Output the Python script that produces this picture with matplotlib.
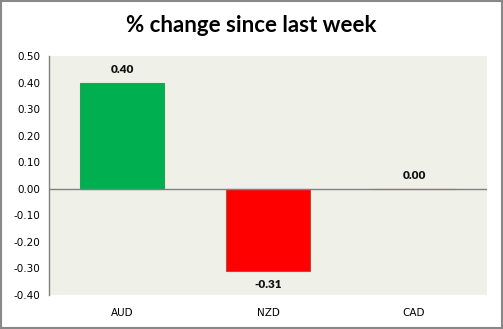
import matplotlib
matplotlib.use("Agg")
import matplotlib.pyplot as plt
from matplotlib.patches import Rectangle

currencies = ["AUD", "NZD", "CAD"]
changes = [0.40, -0.31, 0.00]
bar_colors = ["#00B050", "#FF0000", "#FF0000"]
edge_colors = ["#2E9E4F", "#B0503D", "#B0503D"]
yticks = [0.50, 0.40, 0.30, 0.20, 0.10, 0.00, -0.10, -0.20, -0.30, -0.40]

fig = plt.figure(figsize=(5.03, 3.29), dpi=100)
fig.patch.set_facecolor("white")
ax = fig.add_axes([49 / 503, 1 - 295 / 329, 438 / 503, 239 / 329])
ax.set_facecolor("#EFF1E9")

x = range(len(currencies))
ax.bar(x, changes, width=0.575, color=bar_colors, edgecolor=edge_colors, linewidth=0.8, zorder=3)
# zero line drawn above the bars so an empty bar leaves no trace
ax.axhline(0, color="#808080", linewidth=1.0, zorder=4)

for i, v in enumerate(changes):
    off = 0.028 if v >= 0 else -0.028
    ax.text(i, v + off, f"{v:.2f}", ha="center", va="bottom" if v >= 0 else "top",
            fontsize=8.5, fontweight="heavy", family="Lato", color="#111111")

ax.set_xlim(-0.5, 2.5)
ax.set_ylim(-0.40, 0.50)
ax.set_yticks(yticks)
ax.set_yticklabels([f"{t:.2f}" for t in yticks], fontsize=7.5, family="DejaVu Sans")
ax.set_xticks(list(x))
ax.set_xticklabels(currencies, fontsize=7.5, family="DejaVu Sans")
ax.tick_params(axis="both", length=0, pad=6)
ax.tick_params(axis="x", pad=9)
for side in ["top", "right", "bottom"]:
    ax.spines[side].set_visible(False)
ax.spines["left"].set_color("#808080")
ax.spines["left"].set_linewidth(1.0)

fig.text(0.5, 1 - 26 / 329, "% change since last week", ha="center", va="center",
         fontsize=16, fontweight="bold", family="Lato")

# grey frame round the whole chart
fig.patches.append(Rectangle((0.002, 0.003), 0.996, 0.994, transform=fig.transFigure,
                             fill=False, edgecolor="#888888", linewidth=1.5))

fig.savefig("out.png", dpi=100)
